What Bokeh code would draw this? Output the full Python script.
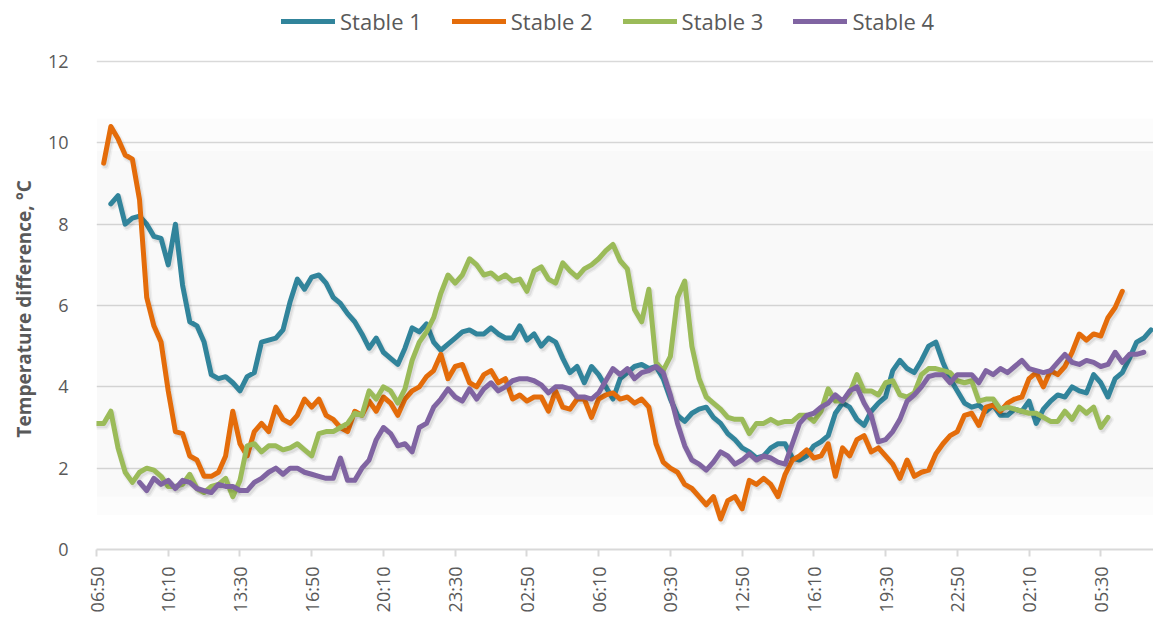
import numpy as np
from bokeh.plotting import figure
from bokeh.models import (Range1d, FixedTicker, Legend, LegendItem, BoxAnnotation, Title,
                          ColumnDataSource)
from bokeh.transform import dodge
from bokeh.embed import file_html
from bokeh.resources import INLINE

# ---------------- data ----------------
step_minutes = 20          # sampling step of the readings (minutes)
tick_every = 200           # minutes between axis labels
tick_labels = ["06:50", "10:10", "13:30", "16:50", "20:10", "23:30", "02:50",
               "06:10", "09:30", "12:50", "16:10", "19:30", "22:50", "02:10", "05:30"]

series_names = ["Stable 1", "Stable 2", "Stable 3", "Stable 4"]
series_colors = ["#31849B", "#E46C0A", "#9BBB59", "#8064A2"]
start_index = [2, 1, 0, 6]   # first sample index of each series

stable1 = [8.5, 8.7, 8.0, 8.15, 8.2, 8.0, 7.7, 7.65, 7.0, 8.0,
           6.5, 5.6, 5.5, 5.1, 4.3, 4.2, 4.25, 4.1, 3.9, 4.25,
           4.35, 5.1, 5.15, 5.2, 5.4, 6.1, 6.65, 6.4, 6.7, 6.75,
           6.55, 6.2, 6.05, 5.8, 5.6, 5.3, 4.95, 5.2, 4.85, 4.7,
           4.55, 4.95, 5.45, 5.35, 5.55, 5.1, 4.9, 5.05, 5.2, 5.35,
           5.4, 5.3, 5.3, 5.45, 5.3, 5.2, 5.2, 5.5, 5.15, 5.3,
           5.0, 5.2, 5.1, 4.7, 4.35, 4.5, 4.1, 4.5, 4.3, 4.0,
           3.7, 4.2, 4.35, 4.5, 4.55, 4.45, 4.5, 4.2, 3.7, 3.3,
           3.15, 3.35, 3.45, 3.5, 3.25, 3.1, 2.85, 2.7, 2.5, 2.4,
           2.25, 2.3, 2.5, 2.6, 2.6, 2.25, 2.2, 2.3, 2.55, 2.65,
           2.8, 3.35, 3.6, 3.5, 3.2, 3.05, 3.4, 3.6, 3.75, 4.4,
           4.65, 4.45, 4.35, 4.65, 5.0, 5.1, 4.6, 4.2, 3.9, 3.6,
           3.5, 3.55, 3.4, 3.55, 3.3, 3.3, 3.45, 3.4, 3.65, 3.1,
           3.45, 3.65, 3.8, 3.75, 4.0, 3.9, 3.85, 4.3, 4.1, 3.75,
           4.2, 4.35, 4.7, 5.1, 5.2, 5.4]

stable2 = [9.5, 10.4, 10.1, 9.7, 9.6, 8.6, 6.2, 5.5, 5.1, 3.9,
           2.9, 2.85, 2.3, 2.2, 1.8, 1.8, 1.9, 2.3, 3.4, 2.6,
           2.3, 2.9, 3.1, 2.9, 3.5, 3.2, 3.1, 3.3, 3.7, 3.5,
           3.7, 3.3, 3.2, 3.0, 2.9, 3.4, 3.3, 3.65, 3.4, 3.75,
           3.6, 3.3, 3.7, 3.9, 4.0, 4.25, 4.4, 4.8, 4.2, 4.5,
           4.55, 4.1, 4.0, 4.3, 4.4, 4.1, 4.2, 3.7, 3.8, 3.65,
           3.75, 3.75, 3.4, 3.9, 3.5, 3.45, 3.7, 3.7, 3.25, 3.7,
           3.8, 3.85, 3.7, 3.75, 3.6, 3.7, 3.5, 2.6, 2.15, 2.0,
           1.9, 1.6, 1.5, 1.3, 1.1, 1.3, 0.75, 1.2, 1.3, 1.0,
           1.7, 1.6, 1.75, 1.6, 1.3, 1.85, 2.2, 2.3, 2.45, 2.25,
           2.3, 2.6, 1.8, 2.5, 2.3, 2.7, 2.8, 2.4, 2.5, 2.3,
           2.1, 1.75, 2.2, 1.8, 1.9, 1.95, 2.35, 2.6, 2.8, 2.9,
           3.3, 3.35, 3.05, 3.5, 3.55, 3.4, 3.6, 3.7, 3.75, 4.2,
           4.35, 4.0, 4.4, 4.3, 4.5, 4.85, 5.3, 5.15, 5.3, 5.25,
           5.7, 5.95, 6.35]

stable3 = [3.1, 3.1, 3.4, 2.5, 1.9, 1.65, 1.9, 2.0, 1.95, 1.8,
           1.55, 1.55, 1.6, 1.85, 1.5, 1.4, 1.55, 1.6, 1.75, 1.3,
           1.7, 2.55, 2.6, 2.4, 2.55, 2.55, 2.45, 2.5, 2.6, 2.45,
           2.3, 2.85, 2.9, 2.9, 3.0, 3.1, 3.35, 3.3, 3.9, 3.7,
           4.0, 3.9, 3.6, 3.95, 4.65, 5.1, 5.35, 5.7, 6.3, 6.75,
           6.55, 6.75, 7.15, 7.0, 6.75, 6.8, 6.65, 6.75, 6.6, 6.65,
           6.35, 6.85, 6.95, 6.65, 6.55, 7.05, 6.85, 6.7, 6.9, 7.0,
           7.15, 7.35, 7.5, 7.1, 6.9, 5.9, 5.6, 6.4, 4.6, 4.4,
           4.75, 6.2, 6.6, 5.0, 4.2, 3.75, 3.6, 3.45, 3.25, 3.2,
           3.2, 2.85, 3.1, 3.1, 3.2, 3.1, 3.15, 3.15, 3.3, 3.3,
           3.15, 3.4, 3.95, 3.65, 3.65, 3.85, 4.3, 3.9, 3.9, 3.8,
           4.1, 4.15, 3.8, 3.75, 3.85, 4.3, 4.45, 4.45, 4.4, 4.35,
           4.15, 4.1, 4.15, 3.65, 3.7, 3.7, 3.45, 3.5, 3.45, 3.4,
           3.35, 3.35, 3.25, 3.15, 3.15, 3.4, 3.2, 3.5, 3.35, 3.5,
           3.0, 3.25]

stable4 = [1.65, 1.45, 1.75, 1.6, 1.7, 1.5, 1.7, 1.65, 1.5, 1.45,
           1.4, 1.6, 1.55, 1.55, 1.45, 1.45, 1.65, 1.75, 1.9, 2.0,
           1.85, 2.0, 2.0, 1.9, 1.85, 1.8, 1.75, 1.75, 2.25, 1.7,
           1.7, 2.0, 2.2, 2.7, 3.0, 2.85, 2.55, 2.6, 2.4, 3.0,
           3.1, 3.5, 3.7, 3.95, 3.75, 3.65, 3.95, 3.7, 3.95, 4.1,
           3.9, 4.0, 4.15, 4.2, 4.2, 4.15, 4.05, 3.85, 4.0, 4.0,
           3.95, 3.75, 3.75, 3.7, 3.85, 4.15, 4.45, 4.3, 4.45, 4.2,
           4.35, 4.4, 4.5, 4.35, 3.8, 3.1, 2.55, 2.2, 2.1, 1.95,
           2.15, 2.4, 2.3, 2.1, 2.2, 2.35, 2.2, 2.3, 2.25, 2.15,
           2.1, 2.6, 3.1, 3.3, 3.35, 3.5, 3.6, 3.8, 3.65, 3.9,
           4.0, 3.6, 3.3, 2.65, 2.7, 2.9, 3.2, 3.65, 3.8, 4.0,
           4.25, 4.3, 4.3, 4.1, 4.3, 4.3, 4.3, 4.1, 4.4, 4.3,
           4.45, 4.35, 4.5, 4.65, 4.45, 4.4, 4.35, 4.4, 4.6, 4.8,
           4.6, 4.55, 4.65, 4.6, 4.5, 4.55, 4.85, 4.6, 4.8, 4.8,
           4.85]

series_values = [stable1, stable2, stable3, stable4]
y_ticks = [0, 2, 4, 6, 8, 10, 12]
y_title = "Temperature difference, °C"

# ---------------- figure ----------------
TEXT = "#595959"
GRID = "#d9d9d9"
FONT = "Open Sans"

# frame reaches the top of the canvas so the legend can sit above the 12 line
p = figure(width=1153, height=620,
           x_range=Range1d(0, 2947), y_range=Range1d(0, 13.5),
           output_backend="svg", toolbar_location=None,
           min_border_left=89, min_border_right=0,
           min_border_top=0, min_border_bottom=71,
           background_fill_color="white", border_fill_color="white",
           outline_line_color=None)

# very subtle shaded band behind the plot
p.add_layout(BoxAnnotation(bottom=0.85, top=10.6, fill_color="black",
                           fill_alpha=0.012, line_color=None, level="underlay"))
p.add_layout(BoxAnnotation(bottom=1.3, top=9.8, fill_color="black",
                           fill_alpha=0.012, line_color=None, level="underlay"))

# grid
p.xgrid.visible = False
p.ygrid.ticker = FixedTicker(ticks=y_ticks)
p.ygrid.grid_line_color = GRID
p.ygrid.grid_line_width = 1.5

# y axis
p.yaxis.ticker = FixedTicker(ticks=y_ticks)
p.yaxis.axis_line_color = None
p.yaxis.major_tick_line_color = None
p.yaxis.minor_tick_line_color = None
p.yaxis.major_label_text_font = FONT
p.yaxis.major_label_text_font_size = "18px"
p.yaxis.major_label_text_color = TEXT
p.yaxis.major_label_standoff = 22

# y axis title, placed along the 0..12 span (left panel title, shifted up from the bottom)
p.add_layout(Title(text=y_title, align="left", offset=112, standoff=16,
                   text_font=FONT, text_font_size="19px", text_font_style="bold",
                   text_color=TEXT), "left")

# x axis
x_ticks = [k * tick_every for k in range(len(tick_labels))]
p.xaxis.ticker = FixedTicker(ticks=x_ticks)
p.xaxis.major_label_overrides = {t: lab for t, lab in zip(x_ticks, tick_labels)}
p.xaxis.major_label_orientation = np.pi / 2
p.xaxis.axis_line_color = GRID
p.xaxis.axis_line_width = 2
p.xaxis.major_tick_line_color = GRID
p.xaxis.major_tick_line_width = 2
p.xaxis.major_tick_in = 0
p.xaxis.major_tick_out = 7
p.xaxis.minor_tick_line_color = None
p.xaxis.major_label_text_font = FONT
p.xaxis.major_label_text_font_size = "18px"
p.xaxis.major_label_text_color = TEXT
p.xaxis.major_label_standoff = 10

# lines: a soft drop shadow (offset a couple of pixels down-right), then the line
items = []
for name, color, start, vals in zip(series_names, series_colors, start_index, series_values):
    src = ColumnDataSource(dict(t=[(start + k) * step_minutes for k in range(len(vals))],
                                v=vals))
    p.line(x=dodge("t", 5, range=p.x_range), y=dodge("v", -0.06, range=p.y_range),
           source=src, line_width=8, line_color="black", line_alpha=0.045,
           line_join="round", line_cap="round")
    p.line(x=dodge("t", 5, range=p.x_range), y=dodge("v", -0.06, range=p.y_range),
           source=src, line_width=5, line_color="black", line_alpha=0.07,
           line_join="round", line_cap="round")
    r = p.line(x="t", y="v", source=src, line_width=5, line_color=color,
               line_join="round", line_cap="round")
    items.append(LegendItem(label=name, renderers=[r]))

legend = Legend(items=items, orientation="horizontal", location=(185, 513),
                glyph_width=54, glyph_height=20, label_standoff=5, spacing=30,
                padding=0, margin=0, border_line_color=None,
                background_fill_alpha=0,
                label_text_font=FONT, label_text_font_size="22px",
                label_text_color=TEXT)
p.add_layout(legend)

open("out.html", "w").write(file_html(p, INLINE))
